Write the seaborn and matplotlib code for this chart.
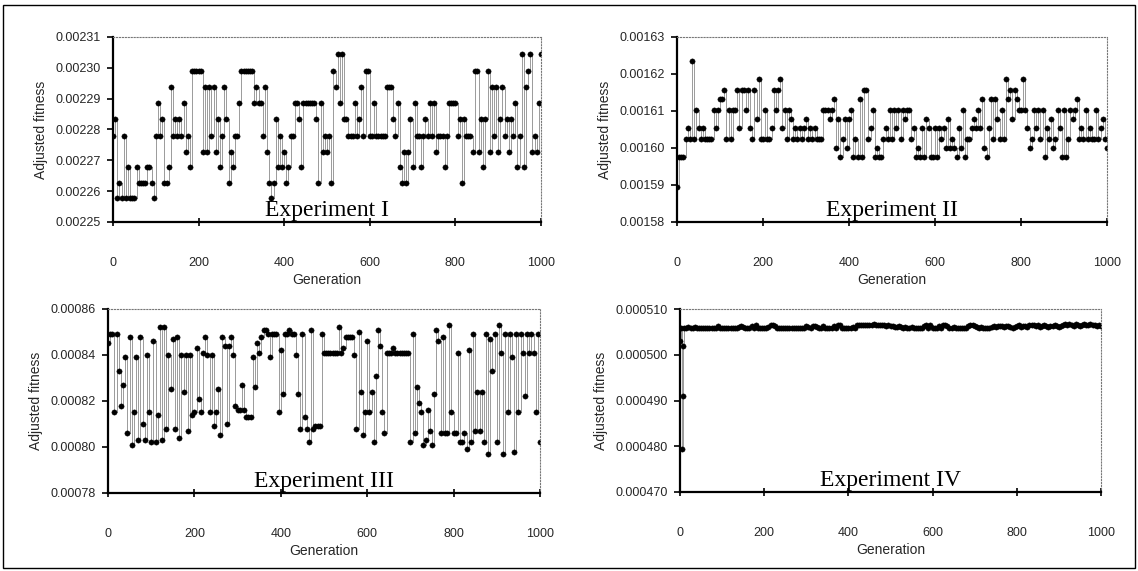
import numpy as np
import matplotlib
matplotlib.use("Agg")
import matplotlib.pyplot as plt
import seaborn as sns
from matplotlib.patches import Rectangle
from matplotlib.ticker import FormatStrFormatter, MultipleLocator

sns.set_theme(style="white")
plt.rcParams["font.family"] = ["Liberation Sans", "DejaVu Sans"]

# ---------------- data ----------------
generations = np.arange(0, 1001, 5)

# Experiment I, adjusted fitness (units of 1e-5)
exp1_fitness_e5 = [
    227.78, 228.33, 225.78, 226.28, 225.78, 227.78, 225.78, 226.78, 225.78, 225.78,
    225.78, 226.78, 226.28, 226.28, 226.28, 226.28, 226.78, 226.78, 226.28, 225.78,
    227.78, 228.85, 227.78, 228.33, 226.28, 226.28, 226.78, 229.38, 227.78, 228.33,
    227.78, 228.33, 227.78, 228.85, 227.28, 227.78, 226.78, 229.90, 229.90, 229.90,
    229.90, 229.90, 227.28, 229.38, 227.28, 229.38, 227.78, 229.38, 227.28, 228.33,
    226.78, 227.78, 229.38, 228.33, 226.28, 227.28, 226.78, 227.78, 227.78, 228.85,
    229.90, 229.90, 229.90, 229.90, 229.90, 229.90, 228.85, 229.38, 228.85, 228.85,
    227.78, 229.38, 227.28, 226.28, 225.78, 226.28, 228.33, 226.78, 227.78, 226.78,
    227.28, 226.28, 226.78, 227.78, 227.78, 228.85, 228.85, 228.33, 226.78, 228.85,
    228.85, 228.85, 228.85, 228.85, 228.85, 228.33, 226.28, 228.85, 227.28, 227.78,
    227.28, 227.78, 226.28, 229.90, 229.38, 230.45, 228.85, 230.45, 228.33, 228.33,
    227.78, 227.78, 227.78, 228.85, 227.78, 228.33, 229.38, 227.78, 229.90, 229.90,
    227.78, 227.78, 228.85, 227.78, 227.78, 227.78, 227.78, 227.78, 229.38, 229.38,
    229.38, 228.33, 227.78, 228.85, 226.78, 226.28, 227.28, 226.28, 227.28, 228.33,
    226.78, 228.85, 227.78, 227.78, 226.78, 227.78, 228.33, 227.78, 228.85, 227.78,
    228.85, 227.28, 227.78, 227.78, 227.78, 226.78, 227.78, 228.85, 228.85, 228.85,
    228.85, 227.78, 228.33, 226.28, 228.33, 227.78, 227.78, 227.78, 227.28, 229.90,
    229.90, 227.28, 228.33, 226.78, 228.33, 229.90, 227.28, 229.38, 227.78, 229.38,
    227.28, 228.33, 229.38, 227.78, 228.33, 227.28, 228.33, 227.78, 228.85, 226.78,
    227.78, 230.45, 226.78, 229.38, 229.90, 230.45, 227.28, 227.78, 227.28, 228.85,
    230.45,
]

# Experiment II, adjusted fitness (units of 1e-3)
exp2_fitness_e3 = [
    1.5895, 1.5975, 1.5975, 1.5975, 1.6025, 1.6055, 1.6025, 1.6235, 1.6025, 1.6102,
    1.6055, 1.6025, 1.6055, 1.6025, 1.6025, 1.6025, 1.6025, 1.6102, 1.6055, 1.6102,
    1.6132, 1.6132, 1.6157, 1.6025, 1.6102, 1.6025, 1.6102, 1.6102, 1.6157, 1.6055,
    1.6157, 1.6157, 1.6102, 1.6157, 1.6055, 1.6025, 1.6157, 1.6078, 1.6187, 1.6025,
    1.6025, 1.6102, 1.6025, 1.6025, 1.6055, 1.6157, 1.6102, 1.6157, 1.6187, 1.6055,
    1.6102, 1.6025, 1.6102, 1.6078, 1.6025, 1.6055, 1.6025, 1.6055, 1.6025, 1.6055,
    1.6078, 1.6025, 1.6055, 1.6025, 1.6055, 1.6025, 1.6025, 1.6025, 1.6102, 1.6102,
    1.6102, 1.6078, 1.6102, 1.6132, 1.6000, 1.6078, 1.5975, 1.6025, 1.6078, 1.6000,
    1.6078, 1.6102, 1.5975, 1.6025, 1.5975, 1.6132, 1.5975, 1.6157, 1.6157, 1.6025,
    1.6055, 1.6102, 1.5975, 1.6000, 1.5975, 1.5975, 1.6025, 1.6055, 1.6025, 1.6102,
    1.6025, 1.6102, 1.6055, 1.6102, 1.6025, 1.6102, 1.6078, 1.6102, 1.6102, 1.6025,
    1.6055, 1.5975, 1.6000, 1.5975, 1.6055, 1.5975, 1.6078, 1.6055, 1.5975, 1.5975,
    1.6055, 1.5975, 1.6055, 1.6025, 1.6055, 1.6000, 1.6078, 1.6000, 1.6025, 1.6000,
    1.5975, 1.6055, 1.6000, 1.6102, 1.5975, 1.6025, 1.6025, 1.6055, 1.6078, 1.6055,
    1.6102, 1.6055, 1.6132, 1.6000, 1.5975, 1.6055, 1.6132, 1.6025, 1.6132, 1.6078,
    1.6025, 1.6102, 1.6025, 1.6187, 1.6132, 1.6157, 1.6078, 1.6157, 1.6132, 1.6102,
    1.6102, 1.6187, 1.6102, 1.6055, 1.6000, 1.6025, 1.6102, 1.6055, 1.6102, 1.6025,
    1.6102, 1.5975, 1.6055, 1.6025, 1.6078, 1.6000, 1.6025, 1.6102, 1.6055, 1.5975,
    1.6102, 1.5975, 1.6025, 1.6102, 1.6078, 1.6102, 1.6132, 1.6025, 1.6055, 1.6025,
    1.6102, 1.6025, 1.6055, 1.6025, 1.6025, 1.6102, 1.6025, 1.6055, 1.6078, 1.6025,
    1.6000,
]

# Experiment III, adjusted fitness (units of 1e-4)
exp3_fitness_e4 = [
    8.45, 8.49, 8.49, 8.15, 8.49, 8.33, 8.18, 8.27, 8.39, 8.06,
    8.48, 8.01, 8.15, 8.39, 8.03, 8.48, 8.10, 8.03, 8.40, 8.15,
    8.02, 8.46, 8.02, 8.14, 8.52, 8.03, 8.52, 8.08, 8.40, 8.25,
    8.47, 8.08, 8.48, 8.04, 8.40, 8.24, 8.40, 8.07, 8.40, 8.14,
    8.15, 8.43, 8.21, 8.15, 8.41, 8.48, 8.40, 8.15, 8.40, 8.09,
    8.15, 8.25, 8.05, 8.48, 8.44, 8.10, 8.44, 8.48, 8.40, 8.18,
    8.16, 8.16, 8.27, 8.16, 8.13, 8.13, 8.13, 8.39, 8.26, 8.45,
    8.41, 8.48, 8.51, 8.51, 8.49, 8.39, 8.49, 8.49, 8.49, 8.15,
    8.42, 8.23, 8.49, 8.49, 8.51, 8.49, 8.49, 8.40, 8.23, 8.08,
    8.49, 8.13, 8.08, 8.02, 8.51, 8.08, 8.09, 8.09, 8.09, 8.49,
    8.41, 8.41, 8.41, 8.41, 8.41, 8.41, 8.41, 8.52, 8.41, 8.43,
    8.48, 8.48, 8.48, 8.48, 8.40, 8.08, 8.50, 8.24, 8.05, 8.15,
    8.46, 8.15, 8.24, 8.02, 8.31, 8.51, 8.44, 8.15, 8.06, 8.41,
    8.41, 8.41, 8.43, 8.41, 8.41, 8.41, 8.41, 8.41, 8.41, 8.41,
    8.02, 8.49, 8.06, 8.26, 8.19, 8.15, 8.01, 8.03, 8.16, 8.07,
    8.01, 8.23, 8.51, 8.46, 8.06, 8.48, 8.06, 8.06, 8.53, 8.15,
    8.06, 8.06, 8.41, 8.02, 8.02, 8.06, 7.99, 8.42, 8.02, 8.49,
    8.07, 8.24, 8.07, 8.24, 8.02, 8.49, 7.97, 8.47, 8.33, 8.49,
    8.02, 8.53, 8.41, 7.97, 8.49, 8.15, 8.49, 8.39, 7.98, 8.49,
    8.15, 8.49, 8.41, 8.22, 8.49, 8.41, 8.49, 8.41, 8.15, 8.49,
    8.02,
]

# Experiment IV: early generations are sampled more finely
exp4_generations = [0, 2, 4, 6, 8, 10] + list(range(15, 1001, 5))
# adjusted fitness (units of 1e-4)
exp4_fitness_e4 = [
    5.030, 5.058, 4.793, 4.910, 5.020, 5.058,
    5.058, 5.060, 5.058, 5.058, 5.060, 5.058, 5.058, 5.058, 5.058, 5.058,
    5.058, 5.058, 5.058, 5.058, 5.058, 5.062, 5.058, 5.058, 5.058, 5.058,
    5.058, 5.058, 5.058, 5.058, 5.058, 5.061, 5.062, 5.060, 5.058, 5.058,
    5.058, 5.062, 5.058, 5.064, 5.058, 5.058, 5.058, 5.058, 5.058, 5.061,
    5.065, 5.066, 5.062, 5.058, 5.058, 5.058, 5.058, 5.058, 5.058, 5.058,
    5.058, 5.058, 5.058, 5.058, 5.058, 5.058, 5.058, 5.062, 5.060, 5.058,
    5.062, 5.062, 5.060, 5.058, 5.058, 5.063, 5.058, 5.058, 5.058, 5.058,
    5.062, 5.058, 5.064, 5.064, 5.058, 5.058, 5.058, 5.058, 5.058, 5.060,
    5.058, 5.066, 5.066, 5.066, 5.066, 5.066, 5.064, 5.066, 5.066, 5.068,
    5.066, 5.066, 5.064, 5.066, 5.066, 5.062, 5.064, 5.062, 5.062, 5.060,
    5.060, 5.062, 5.060, 5.058, 5.060, 5.058, 5.058, 5.060, 5.058, 5.058,
    5.058, 5.058, 5.058, 5.063, 5.064, 5.058, 5.064, 5.058, 5.058, 5.058,
    5.062, 5.058, 5.064, 5.066, 5.062, 5.058, 5.058, 5.060, 5.058, 5.058,
    5.058, 5.058, 5.058, 5.058, 5.062, 5.066, 5.066, 5.062, 5.060, 5.058,
    5.060, 5.058, 5.058, 5.058, 5.058, 5.060, 5.062, 5.060, 5.062, 5.063,
    5.063, 5.060, 5.062, 5.063, 5.060, 5.058, 5.060, 5.062, 5.064, 5.060,
    5.063, 5.063, 5.060, 5.064, 5.066, 5.064, 5.062, 5.064, 5.060, 5.062,
    5.064, 5.062, 5.060, 5.062, 5.062, 5.064, 5.062, 5.060, 5.062, 5.066,
    5.068, 5.066, 5.068, 5.066, 5.062, 5.068, 5.066, 5.062, 5.066, 5.068,
    5.066, 5.064, 5.068, 5.064, 5.066, 5.062, 5.064, 5.063,
]

panel_titles = ["Experiment I", "Experiment II", "Experiment III", "Experiment IV"]
y_limits = [(0.00225, 0.00231), (0.00158, 0.00163), (0.00078, 0.00086), (0.000470, 0.000510)]
y_steps = [0.00001, 0.00001, 0.00002, 0.00001]
y_formats = ["%.5f", "%.5f", "%.5f", "%.6f"]

series = [
    (generations, np.array(exp1_fitness_e5) * 1e-5),
    (generations, np.array(exp2_fitness_e3) * 1e-3),
    (generations, np.array(exp3_fitness_e4) * 1e-4),
    (np.array(exp4_generations), np.array(exp4_fitness_e4) * 1e-4),
]

# ---------------- figure ----------------
W, H = 1138, 571
fig = plt.figure(figsize=(W / 100, H / 100), dpi=100)
fig.patch.set_facecolor("white")

# axes rectangles in pixels: left, top, right, bottom
boxes = [(113, 37, 541, 222), (677, 37, 1107, 222),
         (108, 309, 540, 493), (680, 309, 1101, 492)]

for k, (l, t, r, b) in enumerate(boxes):
    ax = fig.add_axes([l / W, (H - b) / H, (r - l) / W, (b - t) / H])
    gx, gy = series[k]
    sns.lineplot(x=gx, y=gy, ax=ax, color="#9a9a9a", linewidth=0.7,
                 drawstyle="steps-post",
                 marker="o", markersize=3.8, markerfacecolor="black",
                 markeredgecolor="black", markeredgewidth=0.3, estimator=None,
                 sort=False)
    ax.set_xlim(0, 1000)
    ax.set_ylim(*y_limits[k])
    ax.xaxis.set_major_locator(MultipleLocator(200))
    ax.yaxis.set_major_locator(MultipleLocator(y_steps[k]))
    ax.yaxis.set_major_formatter(FormatStrFormatter(y_formats[k]))
    ax.set_facecolor("white")
    for side in ["left", "bottom"]:
        ax.spines[side].set_color("black")
        ax.spines[side].set_linewidth(1.6)
    for side in ["top", "right"]:
        ax.spines[side].set_color("#777777")
        ax.spines[side].set_linewidth(0.8)
        ax.spines[side].set_linestyle(":")
    ax.tick_params(axis="y", direction="out", length=4, width=1.2, color="black",
                   labelsize=9, pad=5, left=True)
    ax.tick_params(axis="x", direction="inout", length=6, width=1.2, color="black",
                   labelsize=9, pad=22, bottom=True)
    ax.set_xlabel("Generation", fontsize=10, labelpad=3)
    ax.set_ylabel("Adjusted fitness", fontsize=10, labelpad=5)
    ax.text(0.5, 0.035, panel_titles[k], transform=ax.transAxes, ha="center",
            va="baseline", fontsize=17, family=["Liberation Serif", "DejaVu Serif"],
            color="black")

# outer frame of the scanned figure
fig.add_artist(Rectangle((3 / W, 3 / H), 1132 / W, 563 / H, transform=fig.transFigure,
                         fill=False, edgecolor="black", linewidth=1.0))

fig.savefig("out.png", dpi=100, facecolor="white")
